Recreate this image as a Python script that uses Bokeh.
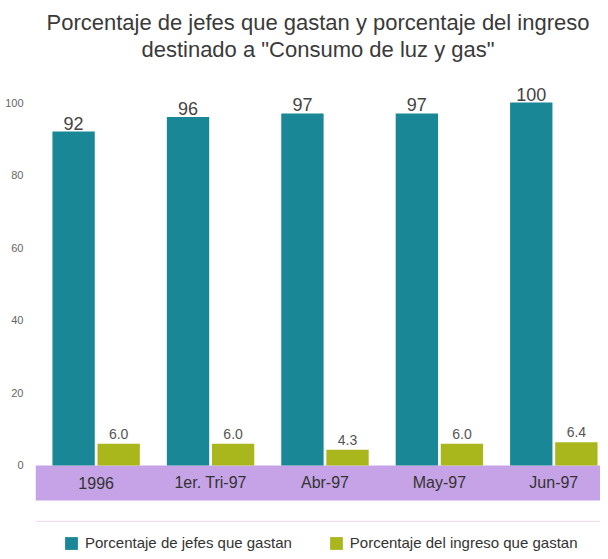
from bokeh.plotting import figure
from bokeh.models import (ColumnDataSource, Range1d, FixedTicker, LabelSet, BoxAnnotation,
                          Title, Legend, LegendItem, Span)
from bokeh.transform import dodge
from bokeh.core.properties import value
from bokeh.embed import file_html
from bokeh.resources import INLINE

categories = ["1996", "1er. Tri-97", "Abr-97", "May-97", "Jun-97"]
jefes = [92, 96, 97, 97, 100]
ingreso = [6.0, 6.0, 4.3, 6.0, 6.4]
y_ticks = [0, 20, 40, 60, 80, 100]

TEAL = "#1a8796"
OLIVE = "#aab71c"
PURPLE = "#c6a3e6"
FONT = "Liberation Sans"

# layout constants (data units of the y scale, ~3.63 px per unit)
Y_START = -23.7
Y_END = 111.3
BAND_BOTTOM = -9.64
RULE_Y = -15.4

src = ColumnDataSource(dict(
    x=list(range(len(categories))),
    cat=categories,
    band_mid=[BAND_BOTTOM / 2] * len(categories),
    jefes=jefes,
    ingreso=ingreso,
    jefes_txt=[str(v) for v in jefes],
    ingreso_txt=[f"{v:.1f}" for v in ingreso],
))

p = figure(width=600, height=551, output_backend="svg", toolbar_location=None,
           x_range=Range1d(-0.530, 4.408), y_range=Range1d(Y_START, Y_END),
           min_border_left=35, min_border_right=0, min_border_top=61, min_border_bottom=0)
p.outline_line_color = None
p.grid.visible = False
p.xaxis.visible = False

band = BoxAnnotation(top=0, bottom=BAND_BOTTOM, fill_color=PURPLE, fill_alpha=1.0,
                     line_color=None, level="underlay")
p.add_layout(band)
p.add_layout(Span(location=RULE_Y, dimension="width", line_color="#efd8ea", line_width=1))

r1 = p.vbar(x=dodge("x", -0.197, range=p.x_range), top="jefes", width=0.37, source=src,
            fill_color=TEAL, line_color=None)
r2 = p.vbar(x=dodge("x", 0.197, range=p.x_range), top="ingreso", width=0.37, source=src,
            fill_color=OLIVE, line_color=None)

p.add_layout(LabelSet(x=dodge("x", -0.197, range=p.x_range), y="jefes", text="jefes_txt", source=src,
                      text_align="center", text_baseline="bottom", y_offset=2,
                      text_font=value(FONT), text_font_size="18px", text_color="#444444"))
p.add_layout(LabelSet(x=dodge("x", 0.197, range=p.x_range), y="ingreso", text="ingreso_txt", source=src,
                      text_align="center", text_baseline="bottom", y_offset=5,
                      text_font=value(FONT), text_font_size="14px", text_color="#555555"))
p.add_layout(LabelSet(x="x", y="band_mid", text="cat", source=src,
                      text_align="center", text_baseline="middle",
                      text_font=value(FONT), text_font_size="16px", text_color="#333333"))

# y axis
ya = p.yaxis[0]
ya.ticker = FixedTicker(ticks=y_ticks)
ya.axis_line_color = None
ya.major_tick_line_color = None
ya.minor_tick_line_color = None
ya.major_label_standoff = 6
ya.major_label_text_font = FONT
ya.major_label_text_font_size = "11px"
ya.major_label_text_color = "#666666"

legend = Legend(items=[
    LegendItem(label="Porcentaje de jefes que gastan", renderers=[r1]),
    LegendItem(label="Porcentaje del ingreso que gastan", renderers=[r2]),
], orientation="horizontal", location=(28, 0), glyph_width=16, glyph_height=16,
   label_text_font=FONT, label_text_font_size="15px", label_text_color="#333333",
   label_standoff=6, spacing=36, border_line_color=None, background_fill_alpha=0,
   padding=4, margin=0)
p.add_layout(legend)

p.add_layout(Title(text='destinado a "Consumo de luz y gas"', align="center",
                   text_font=FONT, text_font_size="22px", text_font_style="normal",
                   text_color="#3a3a3a", standoff=0, offset=-12), "above")
p.add_layout(Title(text="Porcentaje de jefes que gastan y porcentaje del ingreso", align="center",
                   text_font=FONT, text_font_size="22px", text_font_style="normal",
                   text_color="#3a3a3a", standoff=0, offset=-12), "above")

open("out.html", "w").write(file_html(p, INLINE))
